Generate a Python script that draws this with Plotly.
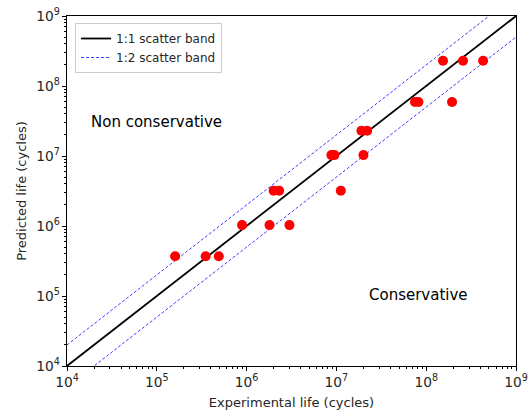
import plotly.graph_objects as go

exp_life = [1.6e5, 3.5e5, 4.9e5, 8.9e5, 1.8e6, 3.0e6, 2.0e6, 2.3e6, 1.12e7,
            8.8e6, 9.5e6, 2.0e7, 1.9e7, 2.2e7, 7.5e7, 8.2e7, 1.94e8,
            1.54e8, 2.57e8, 4.3e8]
pred_life = [3.7e5, 3.7e5, 3.7e5, 1.03e6, 1.03e6, 1.03e6, 3.2e6, 3.2e6, 3.2e6,
             1.03e7, 1.03e7, 1.03e7, 2.3e7, 2.3e7, 5.9e7, 5.9e7, 5.9e7,
             2.3e8, 2.3e8, 2.3e8]
line_x = [1e4, 1e9]
band_factor = 2.0

font = "DejaVu Sans"
txt = "#262626"
fig = go.Figure()
fig.add_trace(go.Scatter(x=line_x, y=line_x, mode="lines",
                         line=dict(color="black", width=1.8),
                         name="1:1 scatter band"))
fig.add_trace(go.Scatter(x=line_x, y=[v * band_factor for v in line_x], mode="lines",
                         line=dict(color="rgba(0,0,255,0.85)", width=0.9, dash="3px,2px"),
                         name="1:2 scatter band"))
fig.add_trace(go.Scatter(x=line_x, y=[v / band_factor for v in line_x], mode="lines",
                         line=dict(color="rgba(0,0,255,0.85)", width=0.9, dash="3px,2px"),
                         showlegend=False))
fig.add_trace(go.Scatter(x=exp_life, y=pred_life, mode="markers",
                         marker=dict(color="red", size=10), showlegend=False))

axis_common = dict(type="log", dtick=1, exponentformat="power", showgrid=False,
                   showline=True, linecolor="black", linewidth=1, mirror=True,
                   ticks="outside", ticklen=4, tickcolor="black", zeroline=False,
                   automargin=False,
                   tickfont=dict(family=font, size=11, color=txt),
                   minor=dict(ticks="outside", ticklen=2, tickcolor="black"))
fig.update_xaxes(range=[4, 9], title=dict(text="Experimental life (cycles)",
                 font=dict(family=font, size=13, color=txt), standoff=8), **axis_common)
fig.update_yaxes(range=[4, 9], title=dict(text="Predicted life (cycles)",
                 font=dict(family=font, size=13, color=txt), standoff=6), **axis_common)

fig.add_annotation(x=5.0, y=7.486, xref="x", yref="y", text="Non conservative",
                   showarrow=False, font=dict(family=font, size=15, color="black"))
fig.add_annotation(x=7.909, y=5.014, xref="x", yref="y", text="Conservative",
                   showarrow=False, font=dict(family=font, size=15, color="black"))

fig.update_layout(width=530, height=412, plot_bgcolor="white", paper_bgcolor="white",
                  margin=dict(l=67, r=14, t=16, b=46),
                  legend=dict(x=0.018, y=0.98, xanchor="left", yanchor="top",
                              bgcolor="rgba(255,255,255,0.9)", bordercolor="#ccc",
                              borderwidth=1, font=dict(family=font, size=12, color=txt)))
fig.write_html("out.html")
